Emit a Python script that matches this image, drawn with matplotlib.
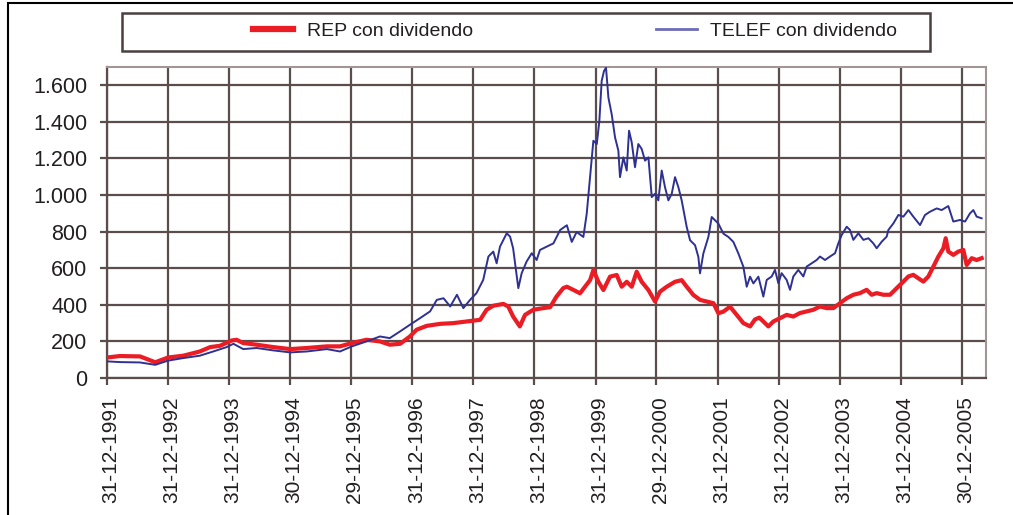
import numpy as np
import pandas as pd
import matplotlib
matplotlib.use("Agg")
import matplotlib.pyplot as plt
import matplotlib.transforms as mtransforms
from matplotlib.lines import Line2D
from matplotlib.patches import Rectangle

plt.rcParams['font.family'] = ['Liberation Sans', 'DejaVu Sans']

# --- data (decimal years, 1992.0 = 31-12-1991) ---
rep_t = [1992.00, 1992.21, 1992.54, 1992.65, 1992.79, 1993.00, 1993.25, 1993.52, 1993.69, 1993.85,
         1994.04, 1994.12, 1994.23, 1994.45, 1994.72, 1995.00, 1995.27, 1995.60, 1995.815, 1996.01,
         1996.25, 1996.47, 1996.63, 1996.80, 1996.96, 1997.07, 1997.235, 1997.455, 1997.67, 1997.89,
         1998.11, 1998.215, 1998.325, 1998.49, 1998.57, 1998.65, 1998.76, 1998.845, 1998.98, 1999.145,
         1999.255, 1999.36, 1999.47, 1999.53, 1999.64, 1999.745, 1999.827, 1999.91, 1999.964, 2000.046,
         2000.128, 2000.237, 2000.346, 2000.428, 2000.51, 2000.592, 2000.673, 2000.755, 2000.865, 2000.974,
         2001.055, 2001.165, 2001.301, 2001.41, 2001.492, 2001.601, 2001.71, 2001.82, 2001.93, 2002.011,
         2002.093, 2002.202, 2002.311, 2002.42, 2002.53, 2002.61, 2002.68, 2002.747, 2002.829, 2002.911,
         2003.02, 2003.129, 2003.238, 2003.347, 2003.457, 2003.566, 2003.675, 2003.784, 2003.893, 2004.003,
         2004.112, 2004.221, 2004.33, 2004.439, 2004.521, 2004.603, 2004.712, 2004.821, 2004.93, 2005.04,
         2005.122, 2005.203, 2005.285, 2005.367, 2005.449, 2005.531, 2005.613, 2005.695, 2005.733, 2005.776,
         2005.858, 2005.94, 2006.022, 2006.077, 2006.159, 2006.24, 2006.322]
rep_v = [112, 120, 118, 104, 86, 112, 122, 145, 169, 176,
         205, 209, 191, 182, 169, 158, 164, 173, 173, 191,
         209, 200, 182, 187, 227, 264, 285, 296, 300, 309,
         318, 373, 395, 405, 391, 336, 282, 345, 373, 382,
         387, 445, 491, 499, 481, 463, 499, 535, 590, 526,
         481, 554, 563, 499, 526, 499, 581, 526, 481, 418,
         472, 499, 526, 535, 499, 454, 427, 418, 409, 354,
         363, 390, 345, 300, 282, 320, 330, 309, 282, 309,
         327, 345, 336, 355, 364, 373, 391, 382, 382, 409,
         436, 455, 464, 482, 455, 464, 455, 455, 491, 527,
         555, 564, 545, 527, 555, 609, 664, 709, 764, 691,
         673, 691, 700, 618, 655, 645, 655]

telef_t = [1992.00, 1992.21, 1992.54, 1992.79, 1993.00, 1993.25, 1993.52, 1993.74, 1993.96, 1994.07,
           1994.23, 1994.45, 1994.72, 1995.00, 1995.27, 1995.60, 1995.815, 1996.01, 1996.25, 1996.47,
           1996.63, 1996.80, 1996.96, 1997.125, 1997.29, 1997.40, 1997.51, 1997.62, 1997.73, 1997.835,
           1997.945, 1998.05, 1998.16, 1998.245, 1998.325, 1998.38, 1998.435, 1998.545, 1998.60, 1998.65,
           1998.71, 1998.735, 1998.79, 1998.87, 1998.955, 1999.035, 1999.09, 1999.20, 1999.31, 1999.42,
           1999.53, 1999.61, 1999.69, 1999.80, 1999.855, 1999.91, 1999.964, 2000.02, 2000.062, 2000.10,
           2000.138, 2000.171, 2000.21, 2000.264, 2000.319, 2000.373, 2000.40, 2000.455, 2000.51, 2000.548,
           2000.592, 2000.646, 2000.70, 2000.755, 2000.81, 2000.865, 2000.92, 2000.974, 2001.028, 2001.083,
           2001.137, 2001.192, 2001.247, 2001.301, 2001.356, 2001.41, 2001.492, 2001.547, 2001.629, 2001.683,
           2001.71, 2001.765, 2001.847, 2001.902, 2001.956, 2002.011, 2002.093, 2002.175, 2002.256, 2002.338,
           2002.42, 2002.475, 2002.53, 2002.584, 2002.666, 2002.747, 2002.802, 2002.884, 2002.938, 2002.993,
           2003.047, 2003.129, 2003.184, 2003.238, 2003.32, 2003.402, 2003.457, 2003.539, 2003.62, 2003.675,
           2003.757, 2003.839, 2003.921, 2003.975, 2004.03, 2004.112, 2004.166, 2004.221, 2004.303, 2004.385,
           2004.467, 2004.548, 2004.603, 2004.685, 2004.767, 2004.794, 2004.876, 2004.958, 2005.04, 2005.122,
           2005.203, 2005.313, 2005.394, 2005.476, 2005.586, 2005.667, 2005.776, 2005.858, 2005.968, 2006.05,
           2006.131, 2006.186, 2006.24, 2006.322]
telef_v = [91, 87, 85, 72, 95, 109, 122, 145, 169, 187,
           158, 164, 151, 140, 145, 158, 145, 173, 200, 227,
           218, 255, 291, 327, 364, 427, 436, 391, 455, 382,
           427, 464, 536, 664, 691, 627, 718, 791, 773, 709,
           555, 491, 573, 636, 682, 645, 700, 718, 736, 809,
           835, 744, 798, 771, 898, 1098, 1297, 1279, 1406, 1624,
           1678, 1696, 1533, 1442, 1315, 1243, 1098, 1206, 1134, 1352,
           1288, 1152, 1279, 1252, 1188, 1206, 989, 1007, 971, 1134,
           1043, 971, 1007, 1098, 1043, 971, 826, 753, 726, 662,
           572, 681, 771, 880, 862, 844, 789, 771, 744, 681,
           608, 499, 554, 517, 554, 445, 536, 555, 591, 518,
           573, 536, 482, 555, 591, 555, 609, 627, 645, 664,
           645, 664, 682, 736, 782, 827, 809, 755, 791, 755,
           764, 736, 709, 745, 773, 809, 845, 891, 882, 918,
           882, 836, 891, 909, 927, 918, 940, 855, 864, 855,
           900, 918, 882, 873]

tick_dates = ["31-12-1991", "31-12-1992", "31-12-1993", "30-12-1994", "29-12-1995",
              "31-12-1996", "31-12-1997", "31-12-1998", "31-12-1999", "29-12-2000",
              "31-12-2001", "31-12-2002", "31-12-2003", "31-12-2004", "30-12-2005"]
y_ticks = [0, 200, 400, 600, 800, 1000, 1200, 1400, 1600]
y_labels = ["0", "200", "400", "600", "800", "1.000", "1.200", "1.400", "1.600"]

# decimal year of each tick date
d = pd.to_datetime(tick_dates, format="%d-%m-%Y")
days = np.where(d.is_leap_year, 366, 365)
tick_pos = d.year + d.dayofyear / days

grid_col = "#5a4d4b"
red = "#ec1c24"
blue = "#2e3192"

fig = plt.figure(figsize=(10.13, 5.15), dpi=100)
ax = fig.add_axes([107 / 1013, 1 - 378 / 515, (986 - 107) / 1013, (378 - 67) / 515])

ax.plot(rep_t, rep_v, color=red, lw=3.0, solid_joinstyle="round", zorder=3)
ax.plot(telef_t, telef_v, color=blue, lw=1.4, zorder=4)

ax.set_xlim(1992.0, 2006.393)
ax.set_ylim(0, 1700)
ax.set_xticks(tick_pos)
ax.set_xticklabels(tick_dates, rotation=90, fontsize=15)
ax.set_yticks(y_ticks)
ax.set_yticklabels(y_labels, fontsize=15.5)
ax.grid(True, color=grid_col, lw=1.6, zorder=1)
ax.tick_params(axis="both", length=5, width=1.6, color=grid_col, labelcolor="#231f20")
ax.tick_params(axis="x", pad=8)
ax.tick_params(axis="y", pad=9)

# x labels sit a little to the right of their ticks
shift = mtransforms.ScaledTranslation(4 / 100, 0, fig.dpi_scale_trans)
for lab in ax.get_xticklabels():
    lab.set_transform(lab.get_transform() + shift)

for side in ["top", "right"]:
    ax.spines[side].set_color("#a09696")
    ax.spines[side].set_linewidth(1.5)
ax.spines["left"].set_color(grid_col)
ax.spines["left"].set_linewidth(1.6)
ax.spines["bottom"].set_color(grid_col)
ax.spines["bottom"].set_linewidth(1.6)

# legend with its own frame
fig.patches.append(Rectangle((122 / 1013, 1 - 51 / 515), (930 - 122) / 1013, 38 / 515,
                             transform=fig.transFigure, fill=False,
                             edgecolor="#4a4040", lw=1.8))
handles = [Line2D([], [], color=red, lw=4.5),
           Line2D([], [], color="#6a6db8", lw=2.0)]
fig.legend(handles, ["REP con dividendo", "TELEF con dividendo"], ncol=2,
           loc="center left", bbox_to_anchor=(235 / 1013, 1 - 31 / 515),
           frameon=False, fontsize=14, handlelength=2.1, handletextpad=0.7,
           columnspacing=9.4, labelcolor="#231f20")

# outer figure border
fig.patches.append(Rectangle((8 / 1013, -0.05), 1.1, 1 - 3 / 515 + 0.05,
                             transform=fig.transFigure, fill=False,
                             edgecolor="black", lw=1.5))

fig.savefig("out.png", dpi=100, facecolor="white")
